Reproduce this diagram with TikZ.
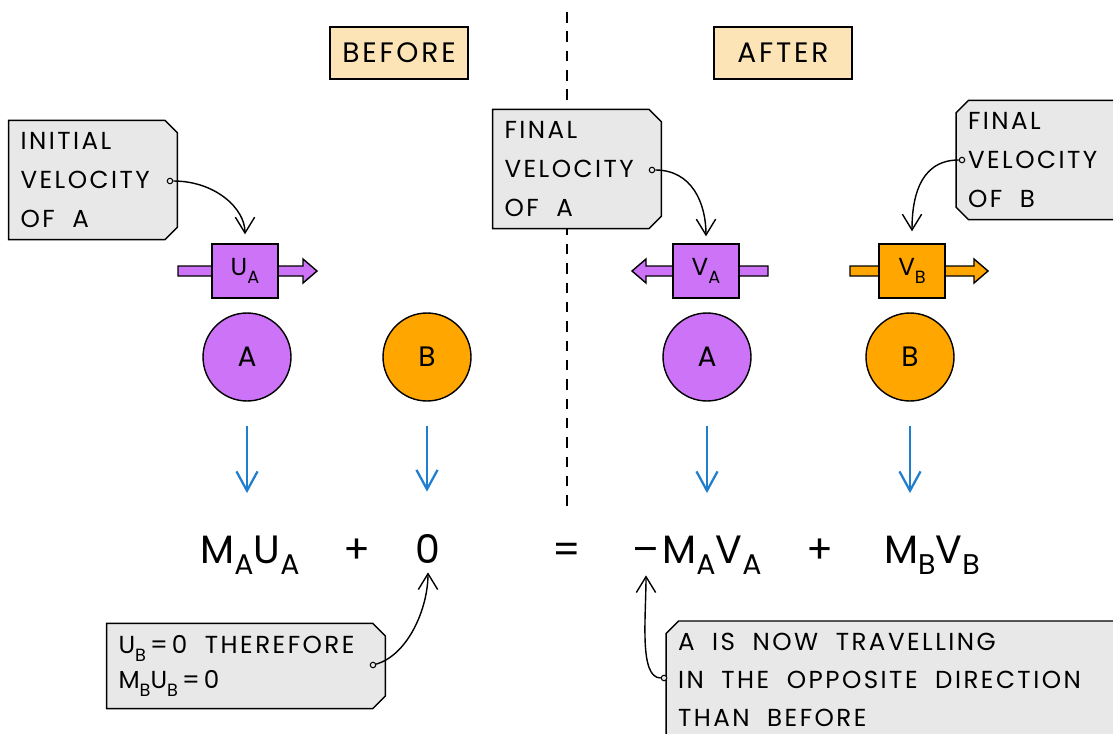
\documentclass[tikz,border=0pt]{standalone}
\usepackage{fontspec}
\setmainfont{Poppins}
\newfontfamily\handfont[LetterSpace=10]{Poppins}
\usetikzlibrary{arrows.meta,shapes.misc}

\definecolor{tagfill}{RGB}{232,232,232}
\definecolor{stagefill}{RGB}{252,228,183}
\definecolor{purp}{RGB}{205,115,247}
\definecolor{orng}{RGB}{255,166,0}
\definecolor{flowblue}{RGB}{32,126,206}

% lowered, smaller subscript letter as in the hand-written terms
\newcommand{\lowsub}[1]{\raisebox{-0.3em}{\scalebox{0.72}{#1}}}
% wide gaps between words, as hand lettered
\newcommand{\widewords}{\spaceskip=10pt plus 2pt\relax}

\begin{document}
\begin{tikzpicture}[
	x=0.02cm, y=-0.02cm,
	stage/.style={
		draw, fill=stagefill, line width=0.8pt,
		minimum width=2.76cm, minimum height=1.04cm,
		font=\handfont\fontsize{16}{19}\selectfont
	},
	tag/.style={
		chamfered rectangle, chamfered rectangle xsep=0.12cm,
		draw, fill=tagfill, line width=0.8pt, align=left,
		font=\handfont\fontsize{14}{22}\selectfont,
		execute at begin node=\widewords
	},
	velbox/.style={
		draw, line width=0.8pt,
		minimum width=1.32cm, minimum height=1.08cm,
		font=\handfont\fontsize{14}{16}\selectfont
	},
	velarrow/.style={draw, line width=0.8pt},
	ball/.style={
		circle, draw, line width=0.8pt, minimum size=1.76cm,
		font=\handfont\fontsize{16}{19}\selectfont
	},
	eqn/.style={font=\handfont\fontsize{22.5}{26}\selectfont, inner sep=0pt, anchor=base},
	flow/.style={flowblue, line width=1.3pt, -{Straight Barb[length=11pt,width=12pt]},
		shorten <=0.48cm, shorten >=0.84cm},
	callout/.style={line width=0.8pt, -{Straight Barb[length=9pt,width=11pt]}},
	dot/.style={circle, draw, fill=tagfill, line width=0.6pt, inner sep=0pt, minimum size=0.11cm},
	divider/.style={line width=0.9pt, dash pattern=on 6pt off 5pt}
]

\useasboundingbox (0,0) rectangle (1113,734);
\clip (0,0) rectangle (1113,734);

% before / after split
\coordinate (divtop) at (567,12);
\coordinate (divbot) at (567,510);
\draw[divider] (divtop) -- (divbot);

\node[stage] (before) at (399,53) {BEFORE};
\node[stage] (after)  at (783,53) {AFTER};

% velocity arrows behind the boxes
\draw[velarrow, fill=purp] (178,266) -- (303,266) -- (303,259) -- (317,271) -- (303,283) -- (303,276) -- (178,276) -- cycle;
\draw[velarrow, fill=purp] (768,266) -- (646,266) -- (646,259) -- (632,271) -- (646,283) -- (646,276) -- (768,276) -- cycle;
\draw[velarrow, fill=orng] (850,266) -- (974,266) -- (974,259) -- (988,271) -- (974,283) -- (974,276) -- (850,276) -- cycle;

\node[velbox, fill=purp] (ua) at (245,271) {U\lowsub{A}};
\node[velbox, fill=purp] (va) at (706,271) {V\lowsub{A}};
\node[velbox, fill=orng] (vb) at (912,271) {V\lowsub{B}};

% balls
\node[ball, fill=purp] (a1) at (247,357) {A};
\node[ball, fill=orng] (b1) at (427,357) {B};
\node[ball, fill=purp] (a2) at (707,357) {A};
\node[ball, fill=orng] (b2) at (910,357) {B};

% momentum equation
\node[eqn] (mu)    at (250,563) {M\lowsub{A}U\lowsub{A}};
\node[eqn] (plusA) at (357,563) {+};
\node[eqn] (zero)  at (428,563) {0};
\node[eqn] (eqs)   at (567,563) {=};
\node[eqn] (minus) at (646,563) {–};
\node[eqn] (mv)    at (712,563) {M\lowsub{A}V\lowsub{A}};
\node[eqn] (plusB) at (820,563) {+};
\node[eqn] (mvb)   at (932,563) {M\lowsub{B}V\lowsub{B}};

\draw[flow] (a1) -- (a1 |- mu.north);
\draw[flow] (b1) -- (b1 |- zero.north);
\draw[flow] (a2) -- (a2 |- mv.north);
\draw[flow] (b2) -- (b2 |- mvb.north);

% labels
\node[tag, chamfered rectangle corners={north east,south east},
	text width=2.9cm, minimum height=2.3cm] (initA) at (93,180)
	{INITIAL\\VELOCITY\\OF A};
\node[tag, chamfered rectangle corners={north east,south east},
	text width=2.9cm, minimum height=2.32cm] (finalA) at (577,169)
	{FINAL\\VELOCITY\\OF A};
\node[tag, chamfered rectangle corners={north west,south west},
	text width=3.4cm, minimum height=2.32cm] (finalB) at (1053,160)
	{FINAL\\VELOCITY\\OF B};
\node[tag, chamfered rectangle corners={north east,south east},
	text width=5.1cm, minimum height=1.66cm,
	font=\handfont\fontsize{14}{20}\selectfont] (ubzero) at (246,666)
	{U\lowsub{B}\,=\,0 THEREFORE\\M\lowsub{B}U\lowsub{B}\,=\,0};
\node[tag, chamfered rectangle corners={north west},
	text width=9.2cm, minimum height=2.36cm,
	font=\handfont\fontsize{14}{21.5}\selectfont] (nowtrav) at (908,680)
	{A IS NOW TRAVELLING\\IN THE OPPOSITE DIRECTION\\THAN BEFORE};

\node[dot] (dA)  at (170,181) {};
\node[dot] (dFA) at (652,170) {};
\node[dot] (dFB) at (962,160) {};
\node[dot] (dU)  at (373,665) {};
\node[dot] (dN)  at (664,678) {};

\draw[callout, shorten >=0.18cm] (dA)  .. controls +(45,0) and +(0,-35) .. (ua.north);
\draw[callout, shorten >=0.14cm] (dFA) .. controls +(40,0) and +(0,-40) .. (va.north);
\draw[callout, shorten >=0.24cm] (dFB) .. controls +(-45,0) and +(0,-40) .. (vb.north);
\draw[callout, shorten >=0.18cm] (dU)  .. controls +(35,-10) and +(0,45) .. (zero.south);
\draw[callout, shorten >=0.24cm] (dN)  .. controls +(-25,0) and +(0,55) .. (minus.south);

\end{tikzpicture}
\end{document}
